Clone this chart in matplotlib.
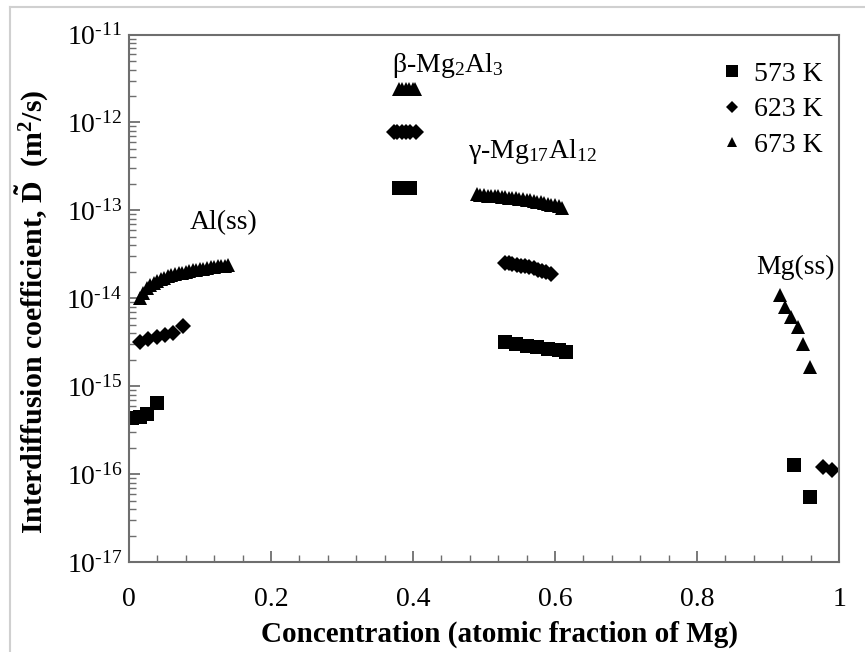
import math
import matplotlib
matplotlib.use("Agg")
import matplotlib.pyplot as plt
from matplotlib.lines import Line2D
from matplotlib.ticker import FixedLocator, LogLocator, NullFormatter, FuncFormatter

plt.rcParams['font.family'] = ['Liberation Serif', 'DejaVu Serif']
plt.rcParams['mathtext.fontset'] = 'custom'
plt.rcParams['mathtext.rm'] = 'Liberation Serif'
plt.rcParams['mathtext.it'] = 'Liberation Serif:italic'
plt.rcParams['mathtext.bf'] = 'Liberation Serif:bold'

# ---------------- data ----------------
temps = ["573 K", "623 K", "673 K"]

# Al(ss)
al_x_573 = [0.005, 0.015, 0.025, 0.040]
al_d_573 = [4.3e-16, 4.5e-16, 4.8e-16, 6.5e-16]
al_x_623 = [0.015, 0.027, 0.039, 0.051, 0.062, 0.076]
al_d_623 = [3.2e-15, 3.45e-15, 3.65e-15, 3.85e-15, 4.05e-15, 4.9e-15]
al_x_673 = [0.015, 0.020, 0.025, 0.030, 0.035, 0.040, 0.045, 0.050, 0.055,
            0.060, 0.065, 0.070, 0.075, 0.080, 0.085, 0.090, 0.095, 0.100,
            0.105, 0.110, 0.115, 0.120, 0.125, 0.130, 0.135, 0.140]
al_d_673 = [1.0e-14, 1.15e-14, 1.3e-14, 1.4e-14, 1.5e-14, 1.58e-14, 1.65e-14,
            1.72e-14, 1.78e-14, 1.83e-14, 1.88e-14, 1.92e-14, 1.96e-14,
            2.0e-14, 2.04e-14, 2.08e-14, 2.12e-14, 2.15e-14, 2.18e-14,
            2.21e-14, 2.24e-14, 2.27e-14, 2.3e-14, 2.33e-14, 2.36e-14, 2.4e-14]

# beta-Mg2Al3
b_x_573 = [0.380, 0.384, 0.388, 0.392, 0.396]
b_d_573 = [1.8e-13, 1.8e-13, 1.8e-13, 1.8e-13, 1.8e-13]
b_x_623 = [0.373, 0.378, 0.384, 0.390, 0.396, 0.404]
b_d_623 = [7.8e-13, 7.8e-13, 7.8e-13, 7.8e-13, 7.8e-13, 7.8e-13]
b_x_673 = [0.380, 0.385, 0.390, 0.395, 0.400, 0.403]
b_d_673 = [2.4e-12, 2.4e-12, 2.4e-12, 2.4e-12, 2.4e-12, 2.4e-12]

# gamma-Mg17Al12
g_x_573 = [0.530, 0.545, 0.560, 0.575, 0.590, 0.605, 0.615]
g_d_573 = [3.2e-15, 3.05e-15, 2.9e-15, 2.8e-15, 2.65e-15, 2.55e-15, 2.45e-15]
g_x_623 = [0.530, 0.535, 0.540, 0.546, 0.552, 0.558, 0.564, 0.570, 0.576,
           0.582, 0.588, 0.594]
g_d_623 = [2.55e-14, 2.5e-14, 2.45e-14, 2.4e-14, 2.35e-14, 2.3e-14,
           2.25e-14, 2.2e-14, 2.12e-14, 2.05e-14, 1.98e-14, 1.9e-14]
g_x_673 = [0.490, 0.495, 0.500, 0.505, 0.510, 0.515, 0.520, 0.525, 0.530,
           0.535, 0.540, 0.545, 0.550, 0.555, 0.560, 0.565, 0.570, 0.575,
           0.580, 0.585, 0.590, 0.595, 0.600, 0.605, 0.610]
g_d_673 = [1.52e-13, 1.5e-13, 1.48e-13, 1.47e-13, 1.46e-13, 1.45e-13,
           1.44e-13, 1.43e-13, 1.42e-13, 1.4e-13, 1.38e-13, 1.37e-13,
           1.35e-13, 1.33e-13, 1.32e-13, 1.3e-13, 1.28e-13, 1.26e-13,
           1.24e-13, 1.22e-13, 1.19e-13, 1.16e-13, 1.14e-13, 1.11e-13, 1.07e-13]

# Mg(ss)
m_x_573 = [0.937, 0.959]
m_d_573 = [1.27e-16, 5.5e-17]
m_x_623 = [0.977, 0.990]
m_d_623 = [1.22e-16, 1.1e-16]
m_x_673 = [0.917, 0.924, 0.932, 0.942, 0.949, 0.959]
m_d_673 = [1.1e-14, 8.0e-15, 6.2e-15, 4.7e-15, 3.0e-15, 1.65e-15]

phase_labels = ["Al(ss)", r"β-Mg$_{\mathregular{2}}$Al$_{\mathregular{3}}$",
                r"γ-Mg$_{\mathregular{17}}$Al$_{\mathregular{12}}$", "Mg(ss)"]

x_ticks = [0, 0.2, 0.4, 0.6, 0.8, 1]
x_ticklabels = ["0", "0.2", "0.4", "0.6", "0.8", "1"]
y_exps = [-17, -16, -15, -14, -13, -12, -11]

# ---------------- plot ----------------
fig = plt.figure(figsize=(8.65, 6.52), dpi=100)
ax = fig.add_axes([0.149, 0.138, 0.821, 0.809])

ms_sq, ms_di, ms_tr = 10.5, 8.5, 9.5
series = [
    ([al_x_573, b_x_573, g_x_573, m_x_573], [al_d_573, b_d_573, g_d_573, m_d_573], 's', ms_sq),
    ([al_x_623, b_x_623, g_x_623, m_x_623], [al_d_623, b_d_623, g_d_623, m_d_623], 'D', ms_di),
    ([al_x_673, b_x_673, g_x_673, m_x_673], [al_d_673, b_d_673, g_d_673, m_d_673], '^', ms_tr),
]
for xs_list, ds_list, mk, ms in series:
    for xs, ds in zip(xs_list, ds_list):
        ax.plot(xs, ds, linestyle='none', marker=mk, markersize=ms,
                color='black', markeredgewidth=0)

ax.set_yscale('log')
ax.set_xlim(0, 1)
ax.set_ylim(1e-17, 1e-11)

ax.xaxis.set_major_locator(FixedLocator(x_ticks))
ax.set_xticklabels(x_ticklabels)
ax.xaxis.set_minor_locator(FixedLocator([i * 0.04 for i in range(26)]))

ax.yaxis.set_major_locator(FixedLocator([10.0 ** e for e in y_exps]))
ax.yaxis.set_major_formatter(FuncFormatter(
    lambda v, p: r'$\mathregular{10^{\text{-}%d}}$' % round(-math.log10(v))))
ax.yaxis.set_minor_locator(LogLocator(base=10, subs=range(2, 10), numticks=20))
ax.yaxis.set_minor_formatter(NullFormatter())

spine_col = '#6e6e6e'
for s in ax.spines.values():
    s.set_color(spine_col)
    s.set_linewidth(1.5)

ax.tick_params(axis='both', which='both', direction='in', color=spine_col,
               top=False, right=False, labelsize=20)
ax.tick_params(axis='both', which='major', length=8, width=1.3)
ax.tick_params(axis='both', which='minor', length=5, width=1.0)
ax.tick_params(axis='x', which='major', pad=18)
ax.tick_params(axis='y', which='major', pad=5)

ax.set_xlabel("Concentration (atomic fraction of Mg)", fontsize=21,
              fontweight='bold')
ax.xaxis.set_label_coords(0.522, -0.112)
ax.set_ylabel(r"Interdiffusion coefficient, $\mathbf{\tilde{D}}$  (m$^{\mathbf{2}}$/s)",
              fontsize=21.5, fontweight='bold')
ax.yaxis.set_label_coords(-0.109, 0.474)

# phase annotations
ax.text(0.134, 0.643, phase_labels[0], transform=ax.transAxes, fontsize=20,
        ha='center', va='center')
ax.text(0.449, 0.941, phase_labels[1], transform=ax.transAxes, fontsize=20,
        ha='center', va='center')
ax.text(0.568, 0.778, phase_labels[2], transform=ax.transAxes, fontsize=20,
        ha='center', va='center')
ax.text(0.939, 0.558, phase_labels[3], transform=ax.transAxes, fontsize=20,
        ha='center', va='center')

handles = [Line2D([], [], linestyle='none', marker='s', color='black', markersize=8, markeredgewidth=0),
           Line2D([], [], linestyle='none', marker='D', color='black', markersize=6, markeredgewidth=0),
           Line2D([], [], linestyle='none', marker='^', color='black', markersize=7, markeredgewidth=0)]
ax.legend(handles, temps, loc='upper right', bbox_to_anchor=(1.0, 0.98),
          frameon=False, fontsize=20, handlelength=0.8, handletextpad=0.4,
          labelspacing=0.35, borderaxespad=0.2)

# outer light-gray frame (left and top)
fig.add_artist(Line2D([10 / 865, 10 / 865], [0, 1 - 7 / 652], transform=fig.transFigure,
                      color='#d0d0d0', linewidth=1.5))
fig.add_artist(Line2D([10 / 865, 1], [1 - 7 / 652, 1 - 7 / 652], transform=fig.transFigure,
                      color='#d0d0d0', linewidth=1.5))

fig.savefig("out.png", dpi=100)
